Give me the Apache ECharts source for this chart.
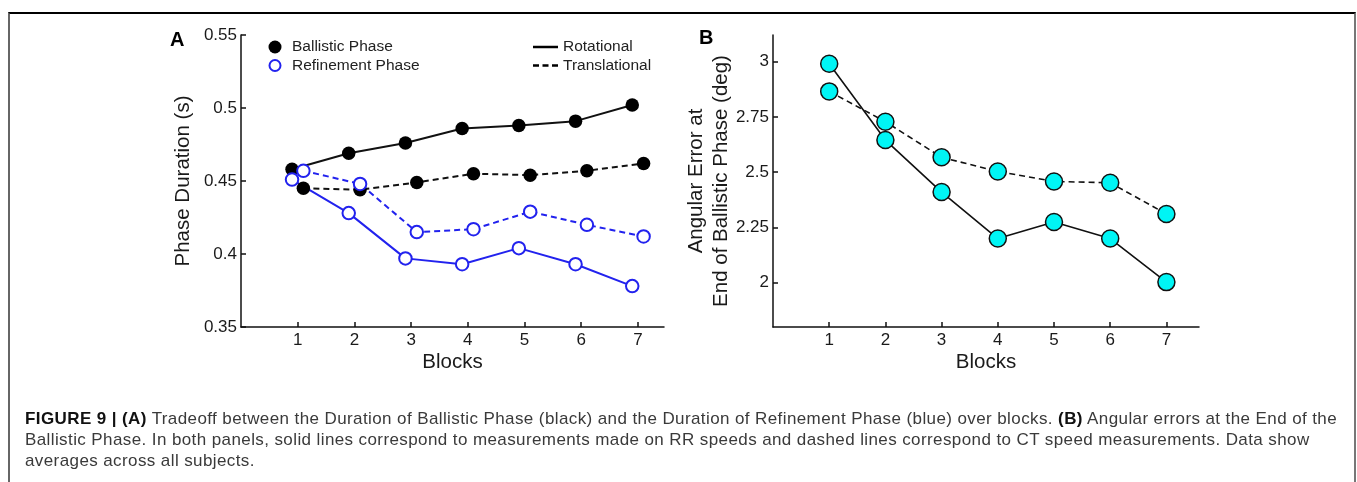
<!DOCTYPE html>
<html>
<head>
<meta charset="utf-8">
<script src="https://cdn.jsdelivr.net/npm/echarts@6/dist/echarts.min.js"></script>
<style>
  html, body { margin: 0; padding: 0; background: #fff; }
  #frame { position: absolute; left: 8px; top: 12px; width: 1348px; height: 480px;
           border-top: 2px solid #000; border-left: 2px solid #666; border-right: 2px solid #777; box-sizing: border-box; }
  #chart { position: absolute; left: 0; top: 0; width: 1357px; height: 482px; }
  #caption { position: absolute; left: 25px; top: 408px; font-family: "Liberation Sans", Arial, sans-serif;
             font-size: 17px; letter-spacing: 0.4px; line-height: 21px; color: #3a3a3a; white-space: nowrap; }
  #caption b { color: #111; }
</style>
</head>
<body>
<div id="frame"></div>
<div id="chart"></div>
<div id="caption"><b>FIGURE 9 | (A)</b> Tradeoff between the Duration of Ballistic Phase (black) and the Duration of Refinement Phase (blue) over blocks. <b>(B)</b> Angular errors at the End of the<br>Ballistic Phase. In both panels, solid lines correspond to measurements made on RR speeds and dashed lines correspond to CT speed measurements. Data show<br>averages across all subjects.</div>
<script>
// ---- data ----
const blocks = [1, 2, 3, 4, 5, 6, 7];
const ballisticRot   = [0.458, 0.469, 0.476, 0.486, 0.488, 0.491, 0.502];
const ballisticTrans = [0.445, 0.444, 0.449, 0.455, 0.454, 0.457, 0.462];
const refineRot      = [0.451, 0.428, 0.397, 0.393, 0.404, 0.393, 0.378];
const refineTrans    = [0.457, 0.448, 0.415, 0.417, 0.429, 0.420, 0.412];
const errRot   = [2.99, 2.645, 2.41, 2.20, 2.275, 2.20, 2.003];
const errTrans = [2.865, 2.728, 2.567, 2.503, 2.458, 2.452, 2.311];
const yTicksA = [0.35, 0.4, 0.45, 0.5, 0.55];
const yTicksB = [2, 2.25, 2.5, 2.75, 3];

const FONT = '"Liberation Sans", Arial, sans-serif';
const BLUE = '#2222ee';
const CYAN = '#00f5f5';

function pairs(vals, shift) { return blocks.map((b, i) => [b + shift, vals[i]]); }

const axisLine = { lineStyle: { color: '#111', width: 1.5 } };
function xAxisCfg(gridIndex, max) {
  return {
    type: 'value', gridIndex, min: 0, max,
    splitLine: { show: false },
    axisLine,
    axisTick: { inside: true, length: 5, customValues: blocks, lineStyle: { color: '#111', width: 1.5 } },
    axisLabel: { customValues: blocks, fontSize: 17, color: '#1a1a1a', fontFamily: FONT, margin: 5 },
    name: 'Blocks', nameLocation: 'middle', nameGap: 25, nameMoveOverlap: false,
    nameTextStyle: { fontSize: 20.5, color: '#1a1a1a', fontFamily: FONT }
  };
}
function yAxisCfg(gridIndex, min, max, ticks, name, nameGap) {
  return {
    type: 'value', gridIndex, min, max,
    splitLine: { show: false },
    axisLine,
    axisTick: { inside: true, length: 5, customValues: ticks, lineStyle: { color: '#111', width: 1.5 } },
    axisLabel: { customValues: ticks, fontSize: 17, color: '#1a1a1a', fontFamily: FONT, margin: 4,
                 formatter: v => String(+(+v).toFixed(2)) },
    name, nameLocation: 'middle', nameGap, nameMoveOverlap: false,
    nameTextStyle: { fontSize: 20.5, color: '#1a1a1a', fontFamily: FONT, lineHeight: 25 }
  };
}

function lineSeries(xi, data, color, dashed, symbolSize, itemStyle, width) {
  return {
    type: 'line', xAxisIndex: xi, yAxisIndex: xi, data,
    symbol: 'circle', symbolSize,
    lineStyle: { color, width, type: dashed ? [6, 4] : 'solid' },
    itemStyle, emphasis: { disabled: true }, silent: true
  };
}

const chart = echarts.init(document.getElementById('chart'), null, { renderer: 'canvas' });
chart.setOption({
  animation: false,
  backgroundColor: 'transparent',
  grid: [
    { left: 241, top: 35, width: 423, height: 292 },
    { left: 773, top: 35, width: 426, height: 292 }
  ],
  xAxis: [xAxisCfg(0, 7.46), xAxisCfg(1, 7.58)],
  yAxis: [
    yAxisCfg(0, 0.35, 0.55, yTicksA, 'Phase Duration (s)', 45),
    yAxisCfg(1, 1.8, 3.12, yTicksB, 'Angular Error at\nEnd of Ballistic Phase (deg)', 39)
  ],
  series: [
    lineSeries(0, pairs(ballisticRot, -0.1), '#111', false, 13.5, { color: '#000' }, 2),
    lineSeries(0, pairs(ballisticTrans, 0.1), '#111', true, 13.5, { color: '#000' }, 2),
    lineSeries(0, pairs(refineRot, -0.1), BLUE, false, 12.5, { color: '#fff', borderColor: BLUE, borderWidth: 2 }, 2),
    lineSeries(0, pairs(refineTrans, 0.1), BLUE, true, 12.5, { color: '#fff', borderColor: BLUE, borderWidth: 2 }, 2),
    lineSeries(1, pairs(errRot, 0), '#111', false, 17, { color: CYAN, borderColor: '#111', borderWidth: 1.5 }, 1.6),
    lineSeries(1, pairs(errTrans, 0), '#111', true, 17, { color: CYAN, borderColor: '#111', borderWidth: 1.5 }, 1.6)
  ],
  graphic: [
    { type: 'text', left: 170, top: 30, style: { text: 'A', font: 'bold 20px ' + FONT, fill: '#000' } },
    { type: 'text', left: 699, top: 28, style: { text: 'B', font: 'bold 20px ' + FONT, fill: '#000' } },
    // legend panel A
    { type: 'circle', shape: { cx: 275, cy: 47, r: 6.5 }, style: { fill: '#000' } },
    { type: 'text', x: 292, y: 47, style: { text: 'Ballistic Phase', font: '15.5px ' + FONT, fill: '#222', verticalAlign: 'middle' } },
    { type: 'circle', shape: { cx: 275, cy: 65.5, r: 5.5 }, style: { fill: '#fff', stroke: BLUE, lineWidth: 2 } },
    { type: 'text', x: 292, y: 65.5, style: { text: 'Refinement Phase', font: '15.5px ' + FONT, fill: '#222', verticalAlign: 'middle' } },
    { type: 'line', shape: { x1: 533, y1: 47, x2: 558, y2: 47 }, style: { stroke: '#000', lineWidth: 2.5 } },
    { type: 'text', x: 563, y: 47, style: { text: 'Rotational', font: '15.5px ' + FONT, fill: '#222', verticalAlign: 'middle' } },
    { type: 'line', shape: { x1: 533, y1: 65.5, x2: 558, y2: 65.5 }, style: { stroke: '#000', lineWidth: 2.5, lineDash: [6, 3.5] } },
    { type: 'text', x: 563, y: 65.5, style: { text: 'Translational', font: '15.5px ' + FONT, fill: '#222', verticalAlign: 'middle' } }
  ]
});
</script>
</body>
</html>
